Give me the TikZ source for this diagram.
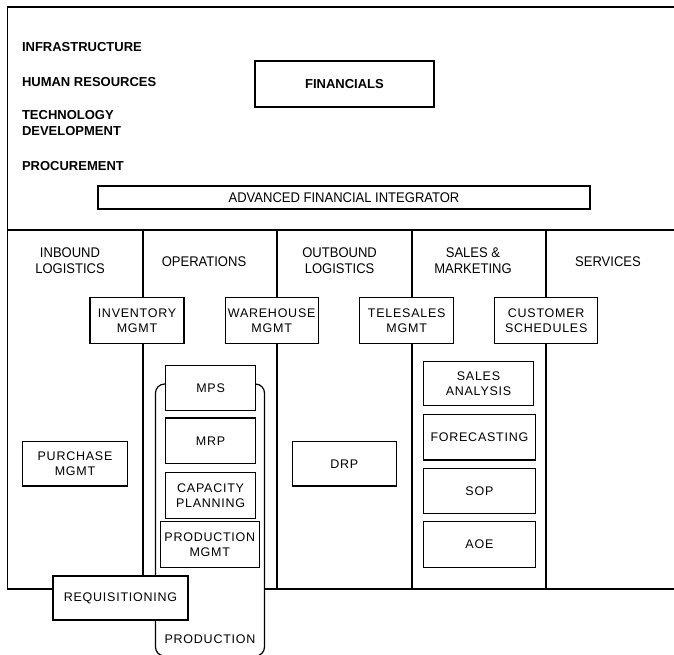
\documentclass[tikz,border=0pt]{standalone}
\usepackage{fontspec}
\setmainfont{Liberation Sans}
\newfontfamily\headfont[FakeStretch=0.93]{Liberation Sans}
\newfontfamily\boxfont[LetterSpace=6]{Liberation Sans}
\begin{document}
\begin{tikzpicture}[x=1pt, y=-1pt, line width=1.2pt,
  every node/.style={inner sep=0pt, outer sep=0pt},
  sidelabel/.style={anchor=west, align=left, font=\fontsize{13}{16}\selectfont\bfseries},
  lanehead/.style={align=center, font=\headfont\fontsize{14}{16}\selectfont},
  appbox/.style={draw, fill=white, align=center, minimum height=45.6pt,
    font=\boxfont\fontsize{12.5}{15}\selectfont},
]
\useasboundingbox (0,0) rectangle (674,654);

% outer frame of the value chain
\draw (7.5,7) rectangle (690,589);
% support activities / primary activities split
\draw (7.5,230) -- (690,230);
% lane dividers
\foreach \lx in {143,277,412,546} \draw (\lx,230) -- (\lx,589);

% support activities
\node[sidelabel] (infra) at (22,46.7) {INFRASTRUCTURE};
\node[sidelabel] (hr) at (22,81.7) {HUMAN RESOURCES};
\node[sidelabel] (tech) at (22,123) {TECHNOLOGY\\DEVELOPMENT};
\node[sidelabel] (proc) at (22,165.7) {PROCUREMENT};

\node[draw, fill=white, minimum width=179pt, minimum height=46pt,
  font=\fontsize{13}{16}\selectfont\bfseries] (fin) at (344.5,84) {FINANCIALS};
\node[draw, fill=white, minimum width=492pt, minimum height=23pt,
  font=\headfont\fontsize{14}{16}\selectfont] (afi) at (344,197.5) {ADVANCED FINANCIAL INTEGRATOR};

% lane headings
\node[lanehead] (inb) at (70,260.3) {INBOUND\\LOGISTICS};
\node[lanehead] (ops) at (204,261.7) {OPERATIONS};
\node[lanehead] (outb) at (339.6,260.3) {OUTBOUND\\LOGISTICS};
\node[lanehead] (sm) at (473,260.3) {SALES \&\\MARKETING};
\node[lanehead] (serv) at (608,261.7) {SERVICES};

% modules sitting on the lane borders
\node[appbox, minimum width=94pt] (inv) at (137,320.5) {INVENTORY\\MGMT};
\node[appbox, minimum width=92.8pt] (wh) at (271.7,320.5) {WAREHOUSE\\MGMT};
\node[appbox, minimum width=93.8pt] (tele) at (406.7,320.5) {TELESALES\\MGMT};
\node[appbox, minimum width=102.8pt] (cust) at (546.2,320.5) {CUSTOMER\\SCHEDULES};

% production group (its lower edge runs just past the page)
\node[draw, fill=white, rounded corners=9pt, minimum width=109pt, minimum height=272pt]
  (prodgrp) at (210,520) {};
\node[font=\boxfont\fontsize{12.5}{15}\selectfont] (prodlbl) at (210,639.3) {PRODUCTION};

\node[appbox, minimum width=90.3pt] (mps) at (210.6,387.9) {MPS};
\node[appbox, minimum width=90.3pt] (mrp) at (210.6,440.8) {MRP};
\node[appbox, minimum width=90.3pt] (cap) at (210.6,495.5) {CAPACITY\\PLANNING};
\node[appbox, minimum width=98.8pt] (pm) at (209.8,544.5) {PRODUCTION\\MGMT};

% inbound and outbound modules
\node[appbox, minimum width=104.5pt, minimum height=44.3pt] (pur) at (75,463.9) {PURCHASE\\MGMT};
\node[appbox, minimum width=104pt, minimum height=44.3pt] (drp) at (344.3,463.9) {DRP};

% sales & marketing modules
\node[appbox, minimum width=110pt, minimum height=43.6pt] (sa) at (478.5,383.5) {SALES\\ANALYSIS};
\node[appbox, minimum width=111.8pt] (fc) at (479.4,437.2) {FORECASTING};
\node[appbox, minimum width=111.8pt, minimum height=45pt] (sop) at (479.4,490.8) {SOP};
\node[appbox, minimum width=111.8pt] (aoe) at (479.4,544.5) {AOE};

% requisitioning overlaps the frame and the production group
\node[appbox, minimum width=135pt, minimum height=44pt] (req) at (120.5,598) {REQUISITIONING};
\end{tikzpicture}
\end{document}
